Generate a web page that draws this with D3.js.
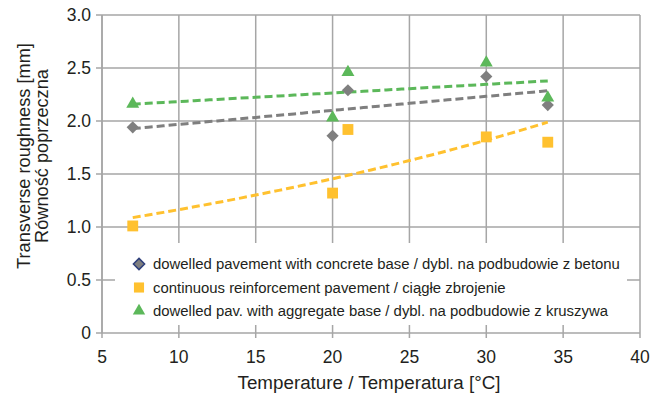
<!DOCTYPE html>
<html>
<head>
<meta charset="utf-8">
<script src="https://cdn.jsdelivr.net/npm/d3@7/dist/d3.min.js"></script>
<style>
  html, body { margin: 0; padding: 0; background: #fff; }
  svg { display: block; font-family: "Liberation Sans", Arial, sans-serif; }
</style>
</head>
<body>
<svg id="chart" width="658" height="394"></svg>
<script>
// Measurement data: temperature [°C] vs transverse roughness [mm]
const temperatures = [7, 20, 21, 30, 34];
const concreteBase = [1.94, 1.86, 2.29, 2.42, 2.15];
const continuousReinf = [1.01, 1.32, 1.92, 1.85, 1.80];
const aggregateBase = [2.16, 2.03, 2.46, 2.55, 2.22];

const xTicks = [5, 10, 15, 20, 25, 30, 35, 40];
const yTicks = [0, 0.5, 1.0, 1.5, 2.0, 2.5, 3.0];
const yTickLabels = ["0", "0.5", "1.0", "1.5", "2.0", "2.5", "3.0"];

const legendLabels = [
  "dowelled pavement with concrete base / dybl. na podbudowie z betonu",
  "continuous reinforcement pavement / ciągłe zbrojenie",
  "dowelled pav. with aggregate base / dybl. na podbudowie z kruszywa"
];

const colors = { gray: "#7f7f7f", yellow: "#ffc12f", green: "#5cb85a", grid: "#a6a6a6", text: "#231f20" };

const series = [
  { values: concreteBase, color: colors.gray, symbol: d3.symbolDiamond2, size: 95, trend: "linear", label: legendLabels[0] },
  { values: continuousReinf, color: colors.yellow, symbol: d3.symbolSquare2, size: 150, trend: "exp", label: legendLabels[1] },
  { values: aggregateBase, color: colors.green, symbol: d3.symbolTriangle2, size: 120, trend: "linear", label: legendLabels[2] }
];

const svg = d3.select("#chart");
const x = d3.scaleLinear().domain([5, 40]).range([102, 640]);
const y = d3.scaleLinear().domain([0, 3]).range([333, 15]);

// grid
const grid = svg.append("g").attr("stroke", colors.grid).attr("stroke-width", 1.5);
grid.selectAll("line.h").data(yTicks).join("line")
  .attr("x1", x(5) - 6).attr("x2", x(40))
  .attr("y1", d => y(d)).attr("y2", d => y(d));
grid.selectAll("line.v").data(xTicks).join("line")
  .attr("x1", d => x(d)).attr("x2", d => x(d))
  .attr("y1", y(3)).attr("y2", y(0) + 5);

// legend background covers the grid underneath
svg.append("rect").attr("x", 115).attr("y", 243).attr("width", 512).attr("height", 82).attr("fill", "#fff");
svg.append("line").attr("stroke", colors.grid).attr("stroke-width", 1.5)
  .attr("x1", x(5)).attr("x2", x(5)).attr("y1", y(3)).attr("y2", y(0));

// tick labels
svg.append("g").selectAll("text").data(yTicks).join("text")
  .attr("x", 91).attr("y", d => y(d)).attr("dy", "0.35em")
  .attr("text-anchor", "end").attr("font-size", 17.5).attr("fill", colors.text)
  .text((d, i) => yTickLabels[i]);
svg.append("g").selectAll("text").data(xTicks).join("text")
  .attr("x", d => x(d)).attr("y", 363)
  .attr("text-anchor", "middle").attr("font-size", 17.5).attr("fill", colors.text)
  .text(d => d);

// axis titles
svg.append("text").attr("x", 369).attr("y", 389).attr("text-anchor", "middle")
  .attr("font-size", 18.8).attr("fill", colors.text).text("Temperature / Temperatura [°C]");
const yt = svg.append("text").attr("transform", "translate(0,156) rotate(-90)")
  .attr("text-anchor", "middle").attr("font-size", 18.2).attr("fill", colors.text);
yt.append("tspan").attr("x", 0).attr("y", 30).text("Transverse roughness [mm]");
yt.append("tspan").attr("x", 0).attr("y", 48).text("Równość poprzeczna");

// trend lines fitted to each series
function fit(vals, kind) {
  const ys = kind === "exp" ? vals.map(Math.log) : vals;
  const mx = d3.mean(temperatures), my = d3.mean(ys);
  let sxy = 0, sxx = 0;
  temperatures.forEach((t, i) => { sxy += (t - mx) * (ys[i] - my); sxx += (t - mx) ** 2; });
  const b = sxy / sxx, a = my - b * mx;
  return t => kind === "exp" ? Math.exp(a + b * t) : a + b * t;
}
const tx = d3.range(d3.min(temperatures), d3.max(temperatures) + 0.01, 0.5);
const line = d3.line().x(d => x(d[0])).y(d => y(d[1]));
series.forEach(s => {
  const f = fit(s.values, s.trend);
  svg.append("path").datum(tx.map(t => [t, f(t)]))
    .attr("d", line).attr("fill", "none").attr("stroke", s.color)
    .attr("stroke-width", 3).attr("stroke-dasharray", "8,4");
});

// markers
series.forEach(s => {
  svg.append("g").selectAll("path").data(s.values).join("path")
    .attr("transform", (d, i) => `translate(${x(temperatures[i])},${y(d)})`)
    .attr("d", d3.symbol(s.symbol, s.size)())
    .attr("fill", s.color);
});

// legend
const lg = svg.append("g");
series.forEach((s, i) => {
  const ly = 264 + i * 23.5;
  lg.append("path").attr("transform", `translate(139,${ly})`)
    .attr("d", d3.symbol(s.symbol, i === 0 ? 80 : (i === 1 ? 130 : 110))())
    .attr("fill", s.color)
    .attr("stroke", i === 0 ? "#2e3f7a" : "none").attr("stroke-width", 1.5);
  lg.append("text").attr("x", 153).attr("y", ly).attr("dy", "0.35em")
    .attr("font-size", 14.9).attr("fill", colors.text).text(s.label);
});
</script>
</body>
</html>
